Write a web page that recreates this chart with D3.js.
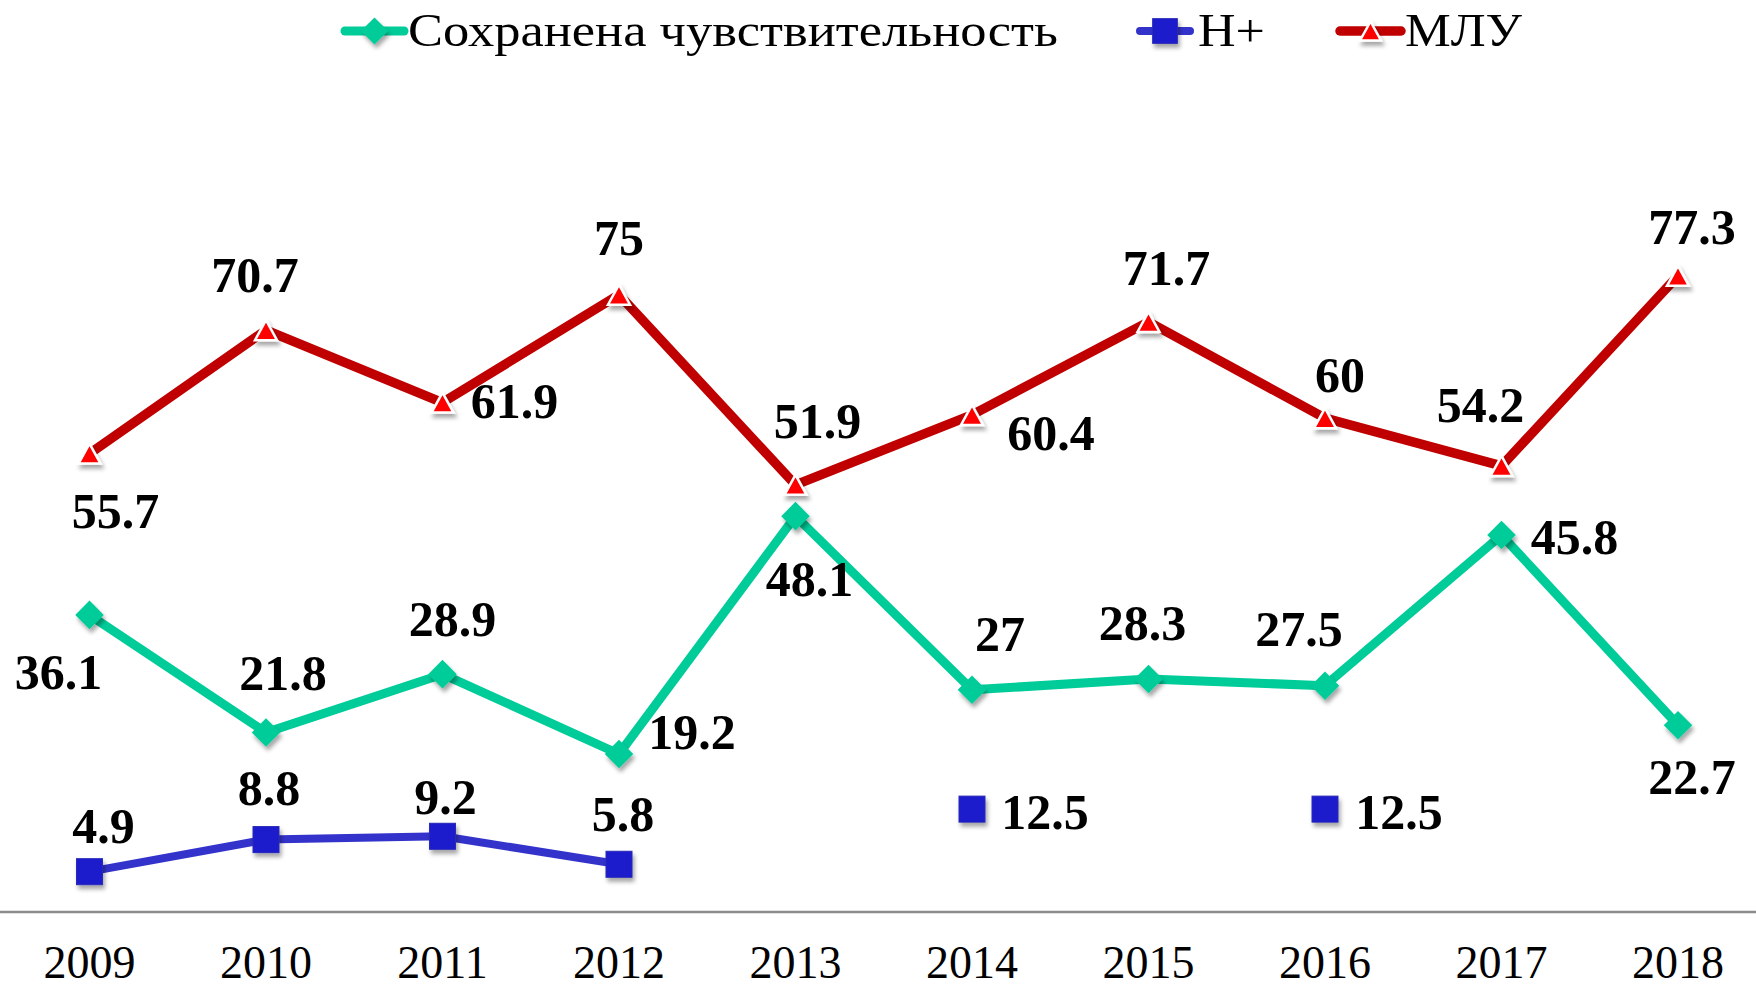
<!DOCTYPE html>
<html>
<head>
<meta charset="utf-8">
<script src="https://cdn.jsdelivr.net/npm/d3@7"></script>
<style>
	body { margin: 0; background: #fff; }
	svg { display: block; font-family: "Liberation Serif", "Times New Roman", serif; }
</style>
</head>
<body>
<svg id="chart" width="1756" height="988"></svg>
<script>

const YEARS = ['2009', '2010', '2011', '2012', '2013', '2014', '2015', '2016', '2017', '2018'];
const SENSITIVE = [36.1, 21.8, 28.9, 19.2, 48.1, 27, 28.3, 27.5, 45.8, 22.7];
const H_PLUS = [4.9, 8.8, 9.2, 5.8, null, 12.5, null, 12.5, null, null];
const MDR = [55.7, 70.7, 61.9, 75, 51.9, 60.4, 71.7, 60, 54.2, 77.3];
const SERIES_NAMES = ['Сохранена чувствительность', 'H+', 'МЛУ'];

// label offsets from the point (label centre)
const MDR_LABEL_OFF = [[26, 55], [-11, -57], [72, -4], [0, -59], [22, -66], [79, 16], [18, -56], [15, -45], [-21, -63], [14, -51]];
const SENS_LABEL_OFF = [[-31, 55], [17, -62], [10, -57], [73, -24], [14, 61], [28, -58], [-6, -58], [-26, -59], [73, 0], [14, 50]];
const HPLUS_LABEL_OFF = [[14, -48], [3, -54], [3, -41], [4, -52], null, [73, 1], null, [74, 1], null, null];

const W = 1756, H = 988;

function whenDocumentLoaded(action) {
	if (document.readyState === "loading") {
		document.addEventListener("DOMContentLoaded", action);
	} else {
		action();
	}
}

whenDocumentLoaded(() => {
	const svg = d3.select('#chart');

	const defs = svg.append('defs');
	const shadow = defs.append('filter').attr('id', 'shadow')
		.attr('x', '-50%').attr('y', '-50%').attr('width', '200%').attr('height', '200%');
	shadow.append('feDropShadow')
		.attr('dx', 2).attr('dy', 4).attr('stdDeviation', 2)
		.attr('flood-color', '#000').attr('flood-opacity', 0.35);

	const x = d3.scalePoint().domain(YEARS).range([89.5, 1678]);
	const y = d3.scaleLinear().domain([0, 100]).range([912, 89]);

	// category axis
	svg.append('line')
		.attr('x1', 0).attr('x2', W)
		.attr('y1', y(0)).attr('y2', y(0))
		.attr('stroke', '#8c8c8c').attr('stroke-width', 2.5);

	svg.append('g').selectAll('text')
		.data(YEARS)
		.enter().append('text')
		.attr('x', d => x(d))
		.attr('y', 978)
		.attr('text-anchor', 'middle')
		.attr('font-size', 46)
		.text(d => d);

	const series = [
		{ name: SERIES_NAMES[0], values: SENSITIVE, offs: SENS_LABEL_OFF, line: '#00cc99', marker: '#00cc99', shape: 'diamond', width: 9 },
		{ name: SERIES_NAMES[1], values: H_PLUS, offs: HPLUS_LABEL_OFF, line: '#3333cc', marker: '#1a1acc', shape: 'square', width: 8 },
		{ name: SERIES_NAMES[2], values: MDR, offs: MDR_LABEL_OFF, line: '#c00000', marker: '#ff0000', shape: 'triangle', width: 9.5 }
	];

	const lineGen = d3.line()
		.defined(d => d.v !== null)
		.x(d => x(d.year))
		.y(d => y(d.v));

	function drawMarker(g, shape, color, cx, cy, scale) {
		const s = scale || 1;
		if (shape === 'diamond') {
			g.append('path')
				.attr('d', d3.symbol().type(d3.symbolDiamond2).size(520 * s * s)())
				.attr('transform', `translate(${cx},${cy})`)
				.attr('fill', color)
				.attr('filter', 'url(#shadow)');
		} else if (shape === 'square') {
			const a = 26 * s;
			g.append('rect')
				.attr('x', cx - a / 2).attr('y', cy - a / 2)
				.attr('width', a).attr('height', a)
				.attr('fill', color)
				.attr('stroke', '#2a2ab8').attr('stroke-width', 1)
				.attr('filter', 'url(#shadow)');
		} else {
			const w = 22 * s, h = 20 * s;
			g.append('path')
				.attr('d', `M${cx},${cy - h / 2}L${cx + w / 2},${cy + h / 2}L${cx - w / 2},${cy + h / 2}Z`)
				.attr('fill', color)
				.attr('stroke', '#fff').attr('stroke-width', 2.5)
				.attr('filter', 'url(#shadow)');
		}
	}

	series.forEach(s => {
		const pts = YEARS.map((yr, i) => ({ year: yr, v: s.values[i], off: s.offs[i] }));
		const g = svg.append('g');

		g.append('path')
			.datum(pts)
			.attr('d', lineGen)
			.attr('fill', 'none')
			.attr('stroke', s.line)
			.attr('stroke-width', s.width)
			.attr('stroke-linejoin', 'round')
			.attr('stroke-linecap', 'round');

		pts.filter(p => p.v !== null).forEach(p => {
			drawMarker(g, s.shape, s.marker, x(p.year), y(p.v));
		});

		g.selectAll('text.lbl')
			.data(pts.filter(p => p.v !== null))
			.enter().append('text')
			.classed('lbl', true)
			.attr('x', p => x(p.year) + p.off[0])
			.attr('y', p => y(p.v) + p.off[1] + 19)
			.attr('text-anchor', 'middle')
			.attr('font-size', 50)
			.attr('font-weight', 'bold')
			.text(p => p.v);
	});

	// legend (text in the picture is stretched sideways, hence textLength)
	const legendItems = [
		{ s: series[0], x1: 345, x2: 404, tx: 408, len: 650 },
		{ s: series[1], x1: 1140, x2: 1190, tx: 1198, len: 67 },
		{ s: series[2], x1: 1340, x2: 1401, tx: 1405, len: 117 }
	];
	const legend = svg.append('g');
	legendItems.forEach(it => {
		legend.append('line')
			.attr('x1', it.x1).attr('x2', it.x2)
			.attr('y1', 31).attr('y2', 31)
			.attr('stroke', it.s.line)
			.attr('stroke-width', it.s.width)
			.attr('stroke-linecap', 'round');
		drawMarker(legend, it.s.shape, it.s.marker, (it.x1 + it.x2) / 2, 31, 0.95);
		legend.append('text')
			.attr('x', it.tx).attr('y', 46)
			.attr('font-size', 46)
			.attr('textLength', it.len)
			.attr('lengthAdjust', 'spacingAndGlyphs')
			.text(it.s.name);
	});
});
</script>
</body>
</html>
